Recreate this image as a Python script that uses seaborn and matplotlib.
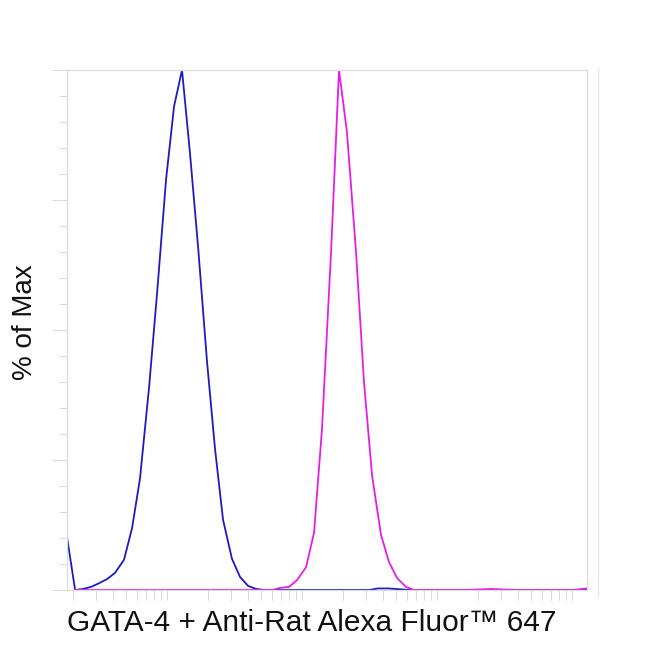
import numpy as np
import pandas as pd
import matplotlib
matplotlib.use("Agg")
import matplotlib.pyplot as plt
from matplotlib.ticker import LogLocator, NullFormatter, MultipleLocator
from matplotlib.lines import Line2D
import seaborn as sns

# log10 of fluorescence intensity (bin centres) and % of max
blue_log = [1.259, 1.259, 1.319, 1.378, 1.437, 1.496, 1.556, 1.615, 1.681, 1.741,
            1.800, 1.867, 1.926, 1.993, 2.052, 2.111, 2.170, 2.230, 2.296, 2.356,
            2.415, 2.481, 2.541, 2.600, 2.659, 2.719, 3.000, 3.500, 3.560, 3.640,
            3.800, 4.200, 4.600, 5.111]
blue_pct = [0.0, 10.2, 0.0, 0.2, 0.6, 1.3, 2.1, 3.3, 5.8, 11.9,
            21.5, 39.0, 57.0, 79.0, 93.0, 100.0, 84.0, 66.0, 44.0, 27.0,
            13.5, 6.0, 2.5, 0.8, 0.2, 0.0, 0.0, 0.0, 0.3, 0.3,
            0.0, 0.0, 0.0, 0.0]

mag_log = [1.319, 1.800, 2.300, 2.778, 2.837, 2.904, 2.963, 3.030, 3.089, 3.148,
           3.215, 3.274, 3.333, 3.400, 3.459, 3.519, 3.585, 3.644, 3.704, 3.770,
           3.830, 4.200, 4.400, 4.600, 5.000, 5.111]
mag_pct = [0.0, 0.0, 0.0, 0.0, 0.4, 0.6, 1.9, 4.4, 11.0, 31.0,
           65.0, 100.0, 88.0, 65.0, 40.0, 22.0, 10.6, 5.4, 2.3, 0.6,
           0.0, 0.0, 0.2, 0.0, 0.0, 0.3]

x_label = "GATA-4 + Anti-Rat Alexa Fluor\u2122 647"
y_label = "% of Max"

sns.set_style("white")
plt.rcParams['font.family'] = ['Liberation Sans', 'DejaVu Sans']

fig = plt.figure(figsize=(6.5, 6.5), dpi=100)
ax = fig.add_axes([67/650, 60/650, 520/650, 520/650])

blue_df = pd.DataFrame({"x": np.power(10.0, blue_log), "y": blue_pct})
mag_df = pd.DataFrame({"x": np.power(10.0, mag_log), "y": mag_pct})

sns.lineplot(data=blue_df, x="x", y="y", sort=False, estimator=None,
             color="#1c1cc0", linewidth=1.3, ax=ax)
sns.lineplot(data=mag_df, x="x", y="y", sort=False, estimator=None,
             color="#e51ee5", linewidth=1.3, ax=ax)

ax.set_xscale("log")
ax.set_xlim(10**1.259, 10**5.111)
ax.set_ylim(0, 100)

grey = "#dcdcdc"
for s in ["top", "right", "left", "bottom"]:
    ax.spines[s].set_visible(True)
    ax.spines[s].set_color(grey)
    ax.spines[s].set_linewidth(0.9)

ax.xaxis.set_major_locator(LogLocator(base=10, numticks=10))
ax.xaxis.set_minor_locator(LogLocator(base=10, subs=np.arange(2, 10), numticks=20))
ax.xaxis.set_major_formatter(NullFormatter())
ax.xaxis.set_minor_formatter(NullFormatter())
ax.yaxis.set_major_locator(MultipleLocator(25))
ax.yaxis.set_minor_locator(MultipleLocator(5))
ax.yaxis.set_major_formatter(NullFormatter())

ax.tick_params(axis="x", which="both", direction="out", bottom=True, color=grey,
               length=7, width=0.8)
ax.tick_params(axis="y", which="major", direction="out", left=True, color=grey,
               length=11, width=0.8)
ax.tick_params(axis="y", which="minor", direction="out", left=True, color=grey,
               length=6, width=0.8)

ax.set_xlabel(x_label, fontsize=21.5, color="#111111")
ax.xaxis.set_label_coords((312 - 67) / 520, -(620 - 590) / 520 - 0.005, transform=ax.transAxes)
ax.xaxis.label.set_va("center")
ax.set_ylabel(y_label, fontsize=20, color="#111111")
ax.yaxis.set_label_coords(-(67 - 25) / 520, (590 - 322) / 520)
ax.yaxis.label.set_va("center")

# secondary faint frame line on the right
fig.add_artist(Line2D([598/650, 598/650], [1 - 597/650, 1 - 68/650],
                      color="#e6e6e6", linewidth=0.9, transform=fig.transFigure))

fig.savefig("out.png", dpi=100, facecolor="white")
